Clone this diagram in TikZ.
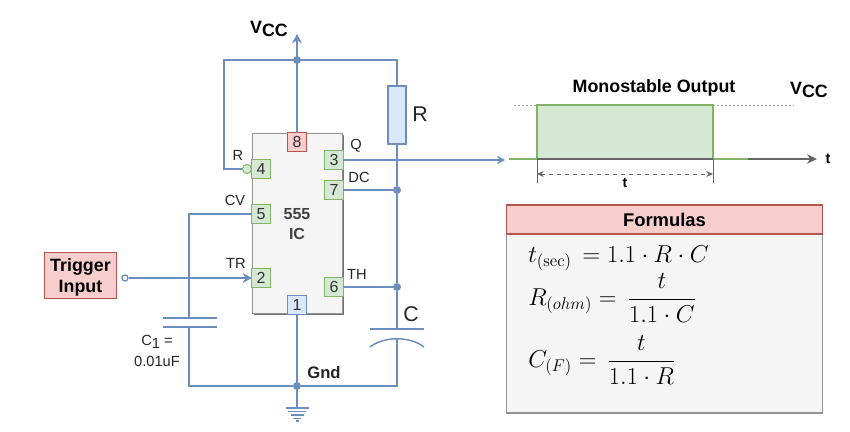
\documentclass[tikz,border=0pt]{standalone}
\usepackage[no-math]{fontspec}
\setmainfont{Liberation Sans}
\usetikzlibrary{shadows,arrows.meta}
\definecolor{wireblue}{HTML}{6C8EBF}
\definecolor{fillblue}{HTML}{DAE8FC}
\definecolor{wiregreen}{HTML}{82B366}
\definecolor{fillgreen}{HTML}{D5E8D4}
\definecolor{wirered}{HTML}{B85450}
\definecolor{fillred}{HTML}{F8CECC}
\definecolor{wiregray}{HTML}{666666}
\definecolor{fillgray}{HTML}{F5F5F5}
\tikzset{
	wire/.style={draw=wireblue,line width=1.4pt},
	plate/.style={draw=wireblue,line width=1.1pt},
	pin/.style={draw=wiregreen,fill=fillgreen,line width=0.75pt,minimum size=13.6pt,inner sep=0pt,outer sep=0pt,font=\fontsize{12}{13}\selectfont,text=black!80},
	dot/.style={circle,fill=wireblue,inner sep=0pt,minimum size=6pt},
	lbl/.style={inner sep=0pt,align=center,font=\fontsize{11}{14}\selectfont,text=black!85},
	big/.style={inner sep=0pt,font=\fontsize{16}{18}\selectfont,text=black!85},
	head/.style={inner sep=0pt,align=center,font=\bfseries\fontsize{13.4}{16}\selectfont},
	eqn/.style={inner sep=0pt,anchor=west,font=\LARGE}
}
\newcommand{\vcclabel}{\textbf{V\raisebox{-0.3ex}{CC}}}
\newcommand{\eqnbox}[1]{\scalebox{1.06}{$\displaystyle #1$}}
\begin{document}
\begin{tikzpicture}[>=Stealth,x=0.75pt,y=-0.75pt]
	\useasboundingbox (0,0) rectangle (850,432);
	% chip and its pins
	\node[draw=wiregray!70,fill=fillgray,line width=0.8pt,minimum width=68pt,minimum height=135pt,inner sep=0pt,outer sep=0pt,
		drop shadow={shadow xshift=1.2pt,shadow yshift=-1.2pt,fill=black!55,opacity=1}] (chip) at (297.5,223.5) {};
	\node[head,font=\bfseries\fontsize{12}{15}\selectfont,text=black!75] (chipname) at (297,224) {555\\IC};
	\node[pin,draw=wirered,fill=fillred] (pin8) at (297,142) {8};
	\node[pin,draw=wireblue,fill=fillblue] (pin1) at (297,305) {1};
	\node[pin] (pin4) at (261,169) {4};
	\node[pin] (pin5) at (261,214) {5};
	\node[pin] (pin2) at (261,278) {2};
	\node[pin] (pin3) at (334,160) {3};
	\node[pin] (pin7) at (334,190) {7};
	\node[pin] (pin6) at (334,287) {6};
	\node[circle,draw=wiregreen,fill=fillgreen,line width=0.75pt,minimum size=6.8pt,inner sep=0pt,outer sep=0pt] (notR) at (247,169) {};
	% pin names
	\node[lbl] (nameR) at (238,155) {R};
	\node[lbl] (nameCV) at (235,200) {CV};
	\node[lbl] (nameTR) at (236,263) {TR};
	\node[lbl] (nameQ) at (356,146) {Q};
	\node[lbl] (nameDC) at (359,177) {DC};
	\node[lbl] (nameTH) at (357,274) {TH};
	% supply, ground and parts
	\node[dot] (jtop) at (297,60) {};
	\node[dot] (j7) at (397,190) {};
	\node[dot] (j6) at (397,287) {};
	\node[dot] (jgnd) at (297,386) {};
	\coordinate (vcctip) at (297,34);
	\coordinate (resetup) at (224,60);
	\coordinate (resetlow) at (224,169);
	\coordinate (corner) at (397,386);
	\coordinate (cp1) at (397,329);
	\coordinate (cp2) at (397,338);
	\coordinate (c1p1) at (189,318);
	\coordinate (c1p2) at (189,327);
	\coordinate (c1low) at (189,386);
	\coordinate (gndtop) at (297,408);
	\node[draw=wireblue,fill=fillblue,line width=1.4pt,minimum width=13.6pt,minimum height=43pt,inner sep=0pt,outer sep=0pt] (Rbox) at (397,115) {};
	\node[head] (vcc) at (269,29) {\vcclabel};
	\node[big] (nameRbox) at (420,114) {R};
	\node[big] (nameC) at (411,314) {C};
	\node[lbl] (c1val) at (157,351) {C\raisebox{-0.4ex}{1} =\\[2pt]0.01uF};
	\node[head,font=\bfseries\fontsize{12.5}{15}\selectfont,text=black!85] (gnd) at (324,373) {Gnd};
	\node[draw=wirered,fill=fillred,line width=0.75pt,minimum width=54.5pt,minimum height=34.5pt,inner sep=0pt,outer sep=0pt,head] (trig) at (80.5,275) {\rule{0pt}{13.5pt}Trigger\\Input};
	\node[circle,draw=wireblue,fill=white,line width=1pt,minimum size=4.5pt,inner sep=0pt] (trigend) at (125,278) {};
	% wires
	\draw[wire,-{Stealth[length=7pt,width=7.5pt]}] (pin8.north) -- (vcctip);
	\draw[wire] (jtop) -- (resetup) -- (resetlow) -- (notR.west);
	\draw[wire] (jtop) -| (Rbox.north);
	\draw[wire] (Rbox.south) -- (j7);
	\draw[wire] (j7) -- (j6);
	\draw[wire] (j6) -- (cp1);
	\draw[wire] (pin7.east) -- (j7);
	\draw[wire] (pin6.east) -- (j6);
	\draw[wire] (pin5.west) -| (c1p1);
	\draw[wire] (c1p2) -- (c1low) -- (jgnd);
	\draw[wire] (jgnd) -- (corner) -- (cp2);
	\draw[wire] (pin1.south) -- (gndtop);
	\draw[wire,-{Stealth[length=7pt,width=7.5pt]}] (trigend) -- (pin2.west);
	\draw[plate] (370,329) -- (424,329);
	\draw[plate] (370,347) .. controls (384,336) and (410,336) .. (424,347);
	\draw[plate] (163,318) -- (217,318);
	\draw[plate] (163,327) -- (217,327);
	\foreach \w/\y in {11.5/408,9/411.5,6.5/415,4/418.5,1.5/421}
		\draw[plate,line width=1.2pt] ({297-\w},\y) -- ({297+\w},\y);
	% output pulse
	\node[draw=wiregreen,fill=fillgreen,line width=1.4pt,minimum width=132pt,minimum height=40.5pt,inner sep=0pt,outer sep=0pt] (pulse) at (625,132) {};
	\coordinate (axisend) at (817,159);
	\coordinate (greenstart) at (509,159);
	\coordinate (greenend) at (748,159);
	\coordinate (q0) at (514,105);
	\coordinate (q1) at (794,105);
	\coordinate (tl) at (537,183);
	\coordinate (tr) at (713,183);
	\coordinate (dl) at (537,174);
	\coordinate (dr) at (713,174);
	\node[head] (pulsetitle) at (654,88) {Monostable Output};
	\node[head] (vccout) at (809,90) {\vcclabel};
	\node[head,font=\bfseries\fontsize{11}{12}\selectfont] (taxis) at (828,159) {t};
	\node[head,font=\bfseries\fontsize{10.5}{12}\selectfont] (tdim) at (625,183) {t};
	\draw[wire,-{Stealth[length=6pt,width=6.5pt]}] (pin3.east) -- (505,160);
	\draw[draw=black!35,line width=0.7pt,dash pattern=on 1.5pt off 1.5pt] (q0) -- (pulse.north west);
	\draw[draw=black!35,line width=0.7pt,dash pattern=on 1.5pt off 1.5pt] (pulse.north east) -- (q1);
	\draw[draw=wiregray,line width=1.4pt,-{Stealth[length=7.5pt,width=7pt]}] (pulse.south west) -- (axisend);
	\draw[draw=wiregreen,line width=1.4pt] (greenstart) -- (pulse.south west);
	\draw[draw=wiregreen,line width=1.4pt] (pulse.south east) -- (greenend);
	\draw[draw=wiregray,line width=0.7pt] (pulse.south west) -- (tl);
	\draw[draw=wiregray,line width=0.7pt] (pulse.south east) -- (tr);
	\draw[draw=wiregray,line width=0.6pt,dashed,{Stealth[length=5pt,width=4.5pt]}-{Stealth[length=5pt,width=4.5pt]}] (dl) -- (dr);
	% formulas
	\node[draw=wiregray!70,fill=fillgray,line width=0.8pt,minimum width=237.5pt,minimum height=156pt,inner sep=0pt,outer sep=0pt] (fbox) at (664.5,309) {};
	\node[draw=wirered,fill=fillred,line width=0.8pt,minimum width=237.5pt,minimum height=21.75pt,inner sep=0pt,outer sep=0pt,head,font=\bfseries\fontsize{13.8}{16}\selectfont] (fhead) at (664.5,219.5) {Formulas};
	\node[eqn] (eqt) at (528,258) {\eqnbox{t_{(\mathrm{sec})}\,=1.1\cdot R\cdot C}};
	\node[eqn] (eqR) at (528,298) {\eqnbox{R_{(ohm)}=\,\frac{t}{1.1\cdot C}}};
	\node[eqn] (eqC) at (528,360) {\eqnbox{C_{(F)}=\,\frac{t}{1.1\cdot R}}};
\end{tikzpicture}
\end{document}
